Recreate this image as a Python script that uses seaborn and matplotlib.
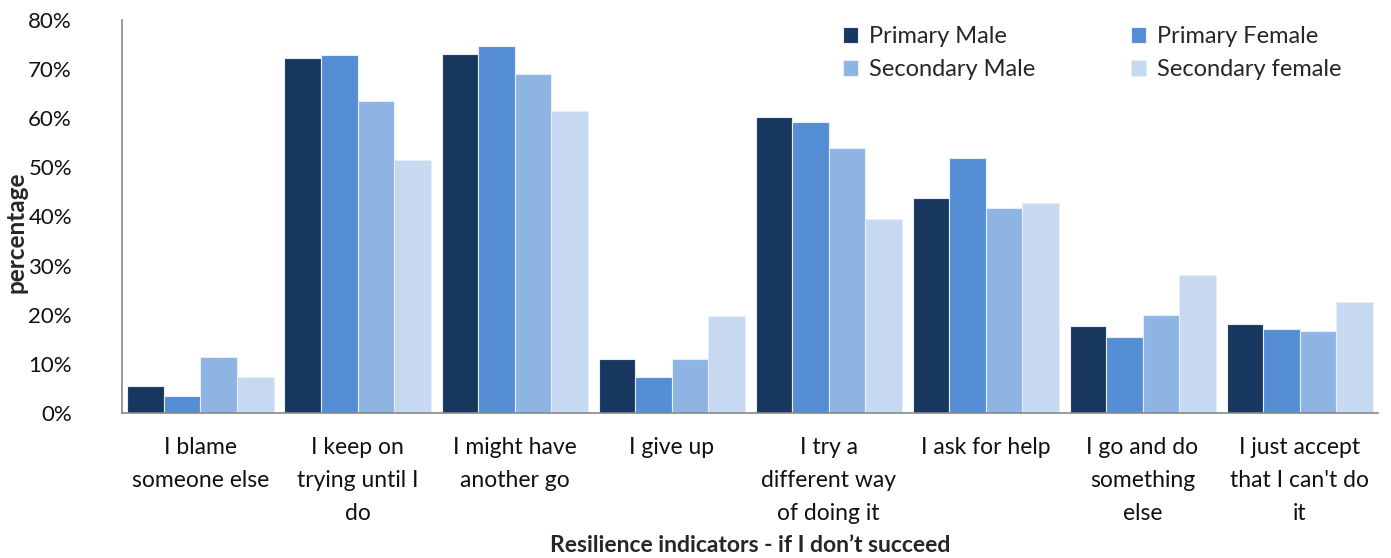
import pandas as pd
import matplotlib
matplotlib.use("Agg")
import matplotlib.pyplot as plt
import seaborn as sns
from matplotlib.ticker import FixedLocator, PercentFormatter

# Chart data
categories = [
    "I blame\nsomeone else",
    "I keep on\ntrying until I\ndo",
    "I might have\nanother go",
    "I give up",
    "I try a\ndifferent way\nof doing it",
    "I ask for help",
    "I go and do\nsomething\nelse",
    "I just accept\nthat I can't do\nit",
]
primary_male = [5.4, 72.3, 73.1, 11.0, 60.3, 43.8, 17.8, 18.1]
primary_female = [3.5, 72.8, 74.8, 7.3, 59.3, 52.0, 15.4, 17.1]
secondary_male = [11.3, 63.6, 69.0, 11.0, 53.9, 41.8, 19.9, 16.7]
secondary_female = [7.3, 51.4, 61.4, 19.7, 39.4, 42.7, 28.1, 22.5]
series_names = ["Primary Male", "Primary Female", "Secondary Male", "Secondary female"]
colors = ["#17375E", "#558ED5", "#8EB4E3", "#C6D9F1"]

# Long format table for seaborn
rows = []
for name, vals in zip(series_names, [primary_male, primary_female, secondary_male, secondary_female]):
    for cat, v in zip(categories, vals):
        rows.append({"category": cat, "group": name, "value": v})
df = pd.DataFrame(rows)

sns.set_style("white")
plt.rcParams["font.family"] = ["Lato", "DejaVu Sans"]

fig = plt.figure(figsize=(13.91, 5.58), dpi=100)
ax = fig.add_axes([0.0877, 0.2599, 0.9030, 0.7043])

sns.barplot(data=df, x="category", y="value", hue="group", order=categories,
            hue_order=series_names, palette=colors, saturation=1,
            width=0.93, gap=0, edgecolor="#e8eef8", linewidth=0.8, ax=ax)

ax.set_ylim(0, 80)
ax.set_xlim(-0.5, len(categories) - 0.5)
ax.set_yticks(range(0, 81, 10))
ax.yaxis.set_major_formatter(PercentFormatter(decimals=0))

# tick marks between categories, labels in the middle
ax.set_xticks(range(len(categories)))
ax.set_xticklabels(categories, linespacing=1.72)
ax.xaxis.set_minor_locator(FixedLocator([i - 0.5 for i in range(len(categories) + 1)]))
ax.tick_params(axis="x", which="major", length=0, pad=17, labelsize=16.5, colors="#111111")
ax.tick_params(axis="x", which="minor", length=8, width=1.2, color="#888888", direction="out")
ax.tick_params(axis="y", length=6, width=1.2, color="#888888", direction="out",
               labelsize=16, colors="#111111", pad=30)

for side in ["top", "right"]:
    ax.spines[side].set_visible(False)
for side in ["left", "bottom"]:
    ax.spines[side].set_color("#888888")
    ax.spines[side].set_linewidth(1.2)

ax.set_xlabel("Resilience indicators - if I don\u2019t succeed", fontsize=16.5,
              fontweight="bold")
ax.xaxis.set_label_coords(0.5, -0.31)
ax.set_ylabel("percentage", fontsize=17.5, fontweight="bold")
ax.yaxis.set_label_coords(-0.075, 0.46)

handles, labels = ax.get_legend_handles_labels()
ax.get_legend().remove()

# two legend columns placed separately (left: Male, right: Female)
leg_kw = dict(frameon=False, fontsize=17, loc="upper left", borderpad=0,
              borderaxespad=0, handlelength=0.65, handleheight=0.65,
              handletextpad=0.45, labelspacing=0.5)
leg1 = fig.legend([handles[0], handles[2]], [labels[0], labels[2]],
                  bbox_to_anchor=(0.606, 0.953), **leg_kw)
leg2 = fig.legend([handles[1], handles[3]], [labels[1], labels[3]],
                  bbox_to_anchor=(0.813, 0.953), **leg_kw)

fig.savefig("out.png", dpi=100)
